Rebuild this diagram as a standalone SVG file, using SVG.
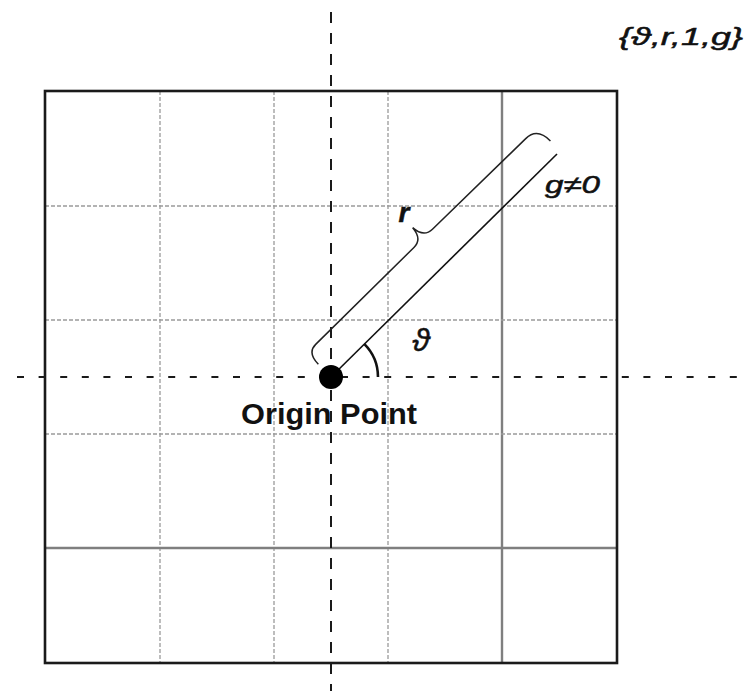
<svg xmlns="http://www.w3.org/2000/svg" width="747" height="691" viewBox="0 0 747 691">
  <style>
    .grid-dash { stroke: #9a9a9a; stroke-width: 1.3; stroke-dasharray: 4 2; fill: none; }
    .grid-solid { stroke: #7f7f7f; stroke-width: 2.4; fill: none; }
    .frame { stroke: #1a1a1a; stroke-width: 2.6; fill: none; }
    .axis-v { stroke: #1a1a1a; stroke-width: 2; stroke-dasharray: 11 10; fill: none; }
    .axis-h { stroke: #1a1a1a; stroke-width: 2; stroke-dasharray: 7 14.6; fill: none; }
    .lbl { font-family: "Liberation Sans", "DejaVu Sans", sans-serif; fill: #111; }
    .it { font-style: italic; stroke: #111; stroke-width: 0.5; }
  </style>
  <rect width="747" height="691" fill="#ffffff"/>

  <g id="grid">
    <line class="grid-dash" x1="160" y1="91" x2="160" y2="663"/>
    <line class="grid-dash" x1="274" y1="91" x2="274" y2="663"/>
    <line class="grid-dash" x1="388" y1="91" x2="388" y2="663"/>
    <line class="grid-solid" x1="502" y1="91" x2="502" y2="663"/>
    <line class="grid-dash" x1="45" y1="206" x2="617" y2="206"/>
    <line class="grid-dash" x1="45" y1="320" x2="617" y2="320"/>
    <line class="grid-dash" x1="45" y1="434" x2="617" y2="434"/>
    <line class="grid-solid" x1="45" y1="548" x2="617" y2="548"/>
    <rect class="frame" x="45" y="91" width="572" height="572"/>
  </g>

  <g id="axes">
    <line class="axis-v" x1="331" y1="12" x2="331" y2="691"/>
    <line class="axis-h" x1="17" y1="377" x2="747" y2="377"/>
  </g>

  <g id="connectors">
    <line id="vector" x1="331" y1="377" x2="557" y2="154" stroke="#111" stroke-width="1.6"/>
    <path id="angle-arc" d="M 378 377 A 47 47 0 0 0 364.2 343.8" fill="none" stroke="#111" stroke-width="2.6"/>
    <path id="brace" transform="translate(331 377) rotate(-44.6)" d="M 0 -18 Q 0 -34 12 -34 L 150 -34 Q 162 -34 163 -49 Q 164 -34 176 -34 L 306 -33 Q 322 -33 322 -14" fill="none" stroke="#222" stroke-width="1.5"/>
  </g>

  <g id="origin">
    <circle cx="331" cy="377" r="12" fill="#000"/>
    <text class="lbl" x="329" y="424" font-size="29" font-weight="bold" text-anchor="middle" textLength="176" lengthAdjust="spacingAndGlyphs">Origin Point</text>
  </g>

  <g id="labels">
    <text class="lbl it" x="404" y="222" font-size="28" font-weight="bold" text-anchor="middle">r</text>
    <text class="lbl it" x="421" y="351" font-size="32" text-anchor="middle">ϑ</text>
    <text class="lbl it" x="545" y="193" font-size="24" textLength="55" lengthAdjust="spacingAndGlyphs">g≠0</text>
    <text class="lbl it" x="619" y="45" font-size="24" textLength="124" lengthAdjust="spacingAndGlyphs">{ϑ,r,1,g}</text>
  </g>
</svg>
